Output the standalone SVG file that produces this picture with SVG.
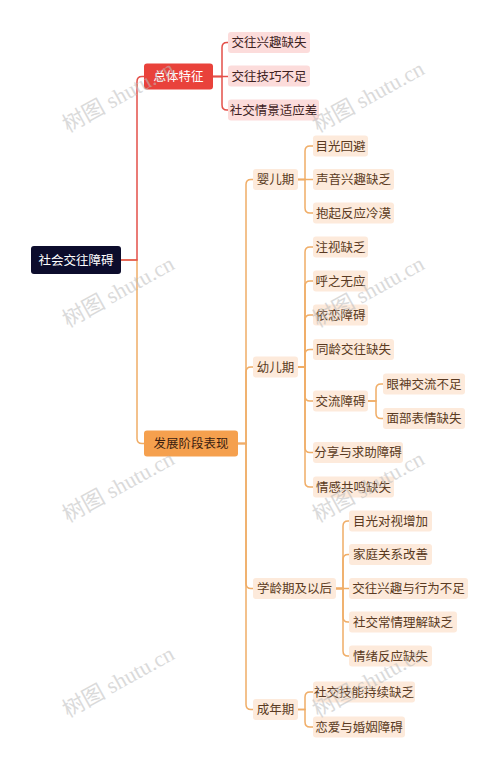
<svg xmlns="http://www.w3.org/2000/svg" width="500" height="768" viewBox="0 0 500 768">
<style>
text{font-family:"Noto Sans CJK SC","Noto Sans",sans-serif;font-size:12.5px;text-anchor:middle}
.lr{fill:none;stroke:#e4504a;stroke-width:1.5}
.lo{fill:none;stroke:#f0ad67;stroke-width:1.5}
.pk rect{fill:#fcdcdb}
.pk text{fill:#3d2222}
.pc rect{fill:#fdeadb}
.pc text{fill:#5a3a22}
.wm{font-family:"Liberation Serif","Noto Sans CJK SC",serif;font-size:22px;fill:#bdbdbd;opacity:0.55;text-anchor:start}
</style>
<rect width="500" height="768" fill="#ffffff"/>
<g id="connectors">
<path class="lo" d="M121,260 H137 V438.5 Q137,443.5 142,443.5 H144"/>
<path class="lr" d="M121,260 H137 V81.5 Q137,76.5 142,76.5 H144"/>
<path class="lr" d="M213,76.5 H222 V47.5 Q222,42.5 227,42.5 H228"/>
<path class="lr" d="M213,76.5 H228"/>
<path class="lr" d="M213,76.5 H222 V105 Q222,110 227,110 H228"/>
<path class="lo" d="M238,443.5 H246 V184.5 Q246,179.5 251,179.5 H253"/>
<path class="lo" d="M238,443.5 H246 V372 Q246,367 251,367 H253"/>
<path class="lo" d="M238,443.5 H246 V583.5 Q246,588.5 251,588.5 H253"/>
<path class="lo" d="M238,443.5 H246 V704.5 Q246,709.5 251,709.5 H253"/>
<path class="lo" d="M298,179.5 H305 V151 Q305,146 310,146 H313"/>
<path class="lo" d="M298,179.5 H313"/>
<path class="lo" d="M298,179.5 H305 V208 Q305,213 310,213 H313"/>
<path class="lo" d="M298,367 H305 V252 Q305,247 310,247 H313"/>
<path class="lo" d="M298,367 H305 V286 Q305,281 310,281 H313"/>
<path class="lo" d="M298,367 H305 V320 Q305,315 310,315 H313"/>
<path class="lo" d="M298,367 H305 V354.5 Q305,349.5 310,349.5 H313"/>
<path class="lo" d="M298,367 H305 V396 Q305,401 310,401 H313"/>
<path class="lo" d="M298,367 H305 V447.5 Q305,452.5 310,452.5 H313"/>
<path class="lo" d="M298,367 H305 V482 Q305,487 310,487 H313"/>
<path class="lo" d="M368,401 H376 V389 Q376,384 381,384 H383"/>
<path class="lo" d="M368,401 H376 V413.5 Q376,418.5 381,418.5 H383"/>
<path class="lo" d="M336,588.5 H343 V526 Q343,521 348,521 H349"/>
<path class="lo" d="M336,588.5 H343 V559.5 Q343,554.5 348,554.5 H349"/>
<path class="lo" d="M336,588.5 H349"/>
<path class="lo" d="M336,588.5 H343 V617 Q343,622 348,622 H349"/>
<path class="lo" d="M336,588.5 H343 V651 Q343,656 348,656 H349"/>
<path class="lo" d="M298,709.5 H305 V697 Q305,692 310,692 H313"/>
<path class="lo" d="M298,709.5 H305 V722 Q305,727 310,727 H313"/>
</g>
<g id="root"><rect x="31" y="246" width="90" height="28" rx="3" fill="#0c0c2c"/><text x="76" y="264.5" fill="#ffffff" font-size="13">社会交往障碍</text></g>
<g id="n-zongti"><rect x="144" y="63.5" width="69" height="26" rx="3" fill="#e9423b"/><text x="178.5" y="81" fill="#ffffff" font-size="13">总体特征</text></g>
<g id="n-fazhan"><rect x="144" y="430.5" width="94" height="26" rx="3" fill="#f5a04e"/><text x="191" y="448" fill="#3b2010" font-size="13">发展阶段表现</text></g>
<g id="n-z1" class="pk"><rect x="228" y="32" width="82" height="21" rx="3"/><text x="269" y="47">交往兴趣缺失</text></g>
<g id="n-z2" class="pk"><rect x="228" y="65.5" width="82" height="21" rx="3"/><text x="269" y="80.5">交往技巧不足</text></g>
<g id="n-z3" class="pk"><rect x="228" y="99.5" width="91" height="21" rx="3"/><text x="273.5" y="114.5">社交情景适应差</text></g>
<g id="n-yinger" class="pc"><rect x="253" y="169" width="45" height="21" rx="3"/><text x="275.5" y="184">婴儿期</text></g>
<g id="n-youer" class="pc"><rect x="253" y="356.5" width="45" height="21" rx="3"/><text x="275.5" y="371.5">幼儿期</text></g>
<g id="n-xueling" class="pc"><rect x="253" y="578" width="83" height="21" rx="3"/><text x="294.5" y="593">学龄期及以后</text></g>
<g id="n-chengnian" class="pc"><rect x="253" y="699" width="45" height="21" rx="3"/><text x="275.5" y="714">成年期</text></g>
<g id="n-y1" class="pc"><rect x="313" y="135.5" width="55" height="21" rx="3"/><text x="340.5" y="150.5">目光回避</text></g>
<g id="n-y2" class="pc"><rect x="313" y="169" width="81" height="21" rx="3"/><text x="353.5" y="184">声音兴趣缺乏</text></g>
<g id="n-y3" class="pc"><rect x="313" y="202.5" width="81" height="21" rx="3"/><text x="353.5" y="217.5">抱起反应冷漠</text></g>
<g id="n-e1" class="pc"><rect x="313" y="236.5" width="55" height="21" rx="3"/><text x="340.5" y="251.5">注视缺乏</text></g>
<g id="n-e2" class="pc"><rect x="313" y="270.5" width="55" height="21" rx="3"/><text x="340.5" y="285.5">呼之无应</text></g>
<g id="n-e3" class="pc"><rect x="313" y="304.5" width="55" height="21" rx="3"/><text x="340.5" y="319.5">依恋障碍</text></g>
<g id="n-e4" class="pc"><rect x="313" y="339" width="81" height="21" rx="3"/><text x="353.5" y="354">同龄交往缺失</text></g>
<g id="n-e5" class="pc"><rect x="313" y="390.5" width="55" height="21" rx="3"/><text x="340.5" y="405.5">交流障碍</text></g>
<g id="n-e51" class="pc"><rect x="383" y="373.5" width="82" height="21" rx="3"/><text x="424" y="388.5">眼神交流不足</text></g>
<g id="n-e52" class="pc"><rect x="383" y="408" width="82" height="21" rx="3"/><text x="424" y="423">面部表情缺失</text></g>
<g id="n-e6" class="pc"><rect x="313" y="442" width="90" height="21" rx="3"/><text x="358" y="457">分享与求助障碍</text></g>
<g id="n-e7" class="pc"><rect x="313" y="476.5" width="81" height="21" rx="3"/><text x="353.5" y="491.5">情感共鸣缺失</text></g>
<g id="n-x1" class="pc"><rect x="349" y="510.5" width="83" height="21" rx="3"/><text x="390.5" y="525.5">目光对视增加</text></g>
<g id="n-x2" class="pc"><rect x="349" y="544" width="83" height="21" rx="3"/><text x="390.5" y="559">家庭关系改善</text></g>
<g id="n-x3" class="pc"><rect x="349" y="578" width="119" height="21" rx="3"/><text x="408.5" y="593">交往兴趣与行为不足</text></g>
<g id="n-x4" class="pc"><rect x="349" y="611.5" width="108" height="21" rx="3"/><text x="403" y="626.5">社交常情理解缺乏</text></g>
<g id="n-x5" class="pc"><rect x="349" y="645.5" width="83" height="21" rx="3"/><text x="390.5" y="660.5">情绪反应缺失</text></g>
<g id="n-c1" class="pc"><rect x="313" y="681.5" width="102" height="21" rx="3"/><text x="364" y="696.5">社交技能持续缺乏</text></g>
<g id="n-c2" class="pc"><rect x="313" y="716.5" width="92" height="21" rx="3"/><text x="359" y="731.5">恋爱与婚姻障碍</text></g>
<g id="watermarks">
<text class="wm" x="68" y="133" transform="rotate(-29 68 133)">树图 shutu.cn</text>
<text class="wm" x="318" y="133" transform="rotate(-29 318 133)">树图 shutu.cn</text>
<text class="wm" x="68" y="328" transform="rotate(-29 68 328)">树图 shutu.cn</text>
<text class="wm" x="318" y="328" transform="rotate(-29 318 328)">树图 shutu.cn</text>
<text class="wm" x="68" y="523" transform="rotate(-29 68 523)">树图 shutu.cn</text>
<text class="wm" x="318" y="523" transform="rotate(-29 318 523)">树图 shutu.cn</text>
<text class="wm" x="68" y="718" transform="rotate(-29 68 718)">树图 shutu.cn</text>
<text class="wm" x="318" y="718" transform="rotate(-29 318 718)">树图 shutu.cn</text>
</g>
</svg>
